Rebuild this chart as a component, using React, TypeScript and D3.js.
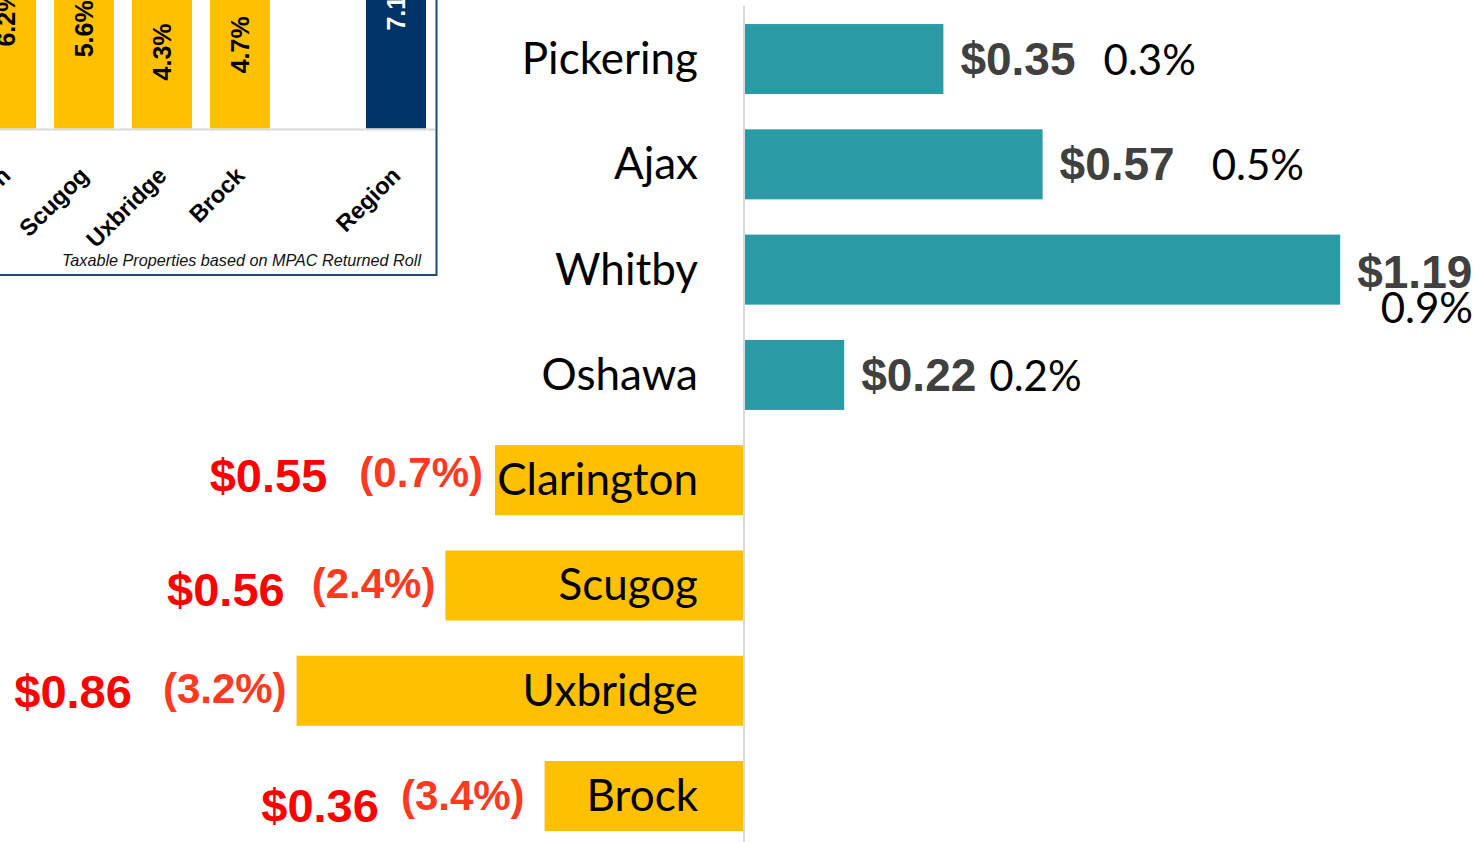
import React from "react";
import * as d3 from "d3";

// ---- Main diverging bar chart data ----
const categories = ["Pickering", "Ajax", "Whitby", "Oshawa", "Clarington", "Scugog", "Uxbridge", "Brock"];
// bar lengths (rounded $ values; teal = positive, yellow = negative)
const barValues = [0.4, 0.6, 1.2, 0.2, -0.5, -0.6, -0.9, -0.4];
const dollarLabels = ["$0.35", "$0.57", "$1.19", "$0.22", "$0.55", "$0.56", "$0.86", "$0.36"];
const pctLabels = ["0.3%", "0.5%", "0.9%", "0.2%", "(0.7%)", "(2.4%)", "(3.2%)", "(3.4%)"];

// ---- Inset (cropped) column chart data ----
const insetCategories = ["Clarington", "Scugog", "Uxbridge", "Brock", " ", "Region"];
const insetValues: (number | null)[] = [6.2, 5.6, 4.3, 4.7, null, 7.1];
const insetLabels = ["6.2%", "5.6%", "4.3%", "4.7%", "", "7.1%"];
const insetNote = "Taxable Properties based on MPAC Returned Roll";

const W = 1478;
const H = 842;
const ARIAL = "'Liberation Sans', Arial, sans-serif";
const CAL = "Lato, 'Noto Sans', sans-serif";
const TEAL = "#2A9BA5";
const YELLOW = "#FFC000";
const NAVY = "#003366";

export default function App() {
  const axisX = 744;
  const len = d3.scaleLinear().domain([0, 1]).range([0, 496]);
  const y = d3
    .scaleBand<string>()
    .domain(categories)
    .range([6.4, 848.7])
    .paddingInner(0.335)
    .paddingOuter(0.1675);

  // layout nudges (text placement)
  const posGap = [28, 37, 0, 13];
  const posDy = [16, 16, 18, 16];
  const negDy = [12, 21, 17, 26];
  const negRise = [5, 8, 5, 12];
  const negBarGap = [12, 10, 10, 20];
  const negDollarGap = [32, 27, 31, 22];

  // inset scales
  const xi = d3
    .scaleBand<string>()
    .domain(insetCategories)
    .range([-33, -33 + 6 * 78])
    .paddingInner(0.2308)
    .paddingOuter(0.1154);
  const base = 128.5;
  const yi = d3.scaleLinear().domain([0, 1]).range([base, base - 35.6]);

  return (
    <svg
      width={W}
      height={H}
      viewBox={`0 0 ${W} ${H}`}
      style={{ position: "absolute", left: 0, top: 0, background: "#fff", display: "block" }}
    >
      <rect x={0} y={0} width={W} height={H} fill="#fff" />

      {/* ---------- Inset chart ---------- */}
      <g>
        {insetCategories.map((c, i) => {
          const v = insetValues[i];
          if (v == null) return null;
          const bx = xi(c)!;
          const bw = xi.bandwidth();
          const top = yi(v);
          const cx = bx + bw / 2;
          const cy = (top + base) / 2;
          const isRegion = c === "Region";
          return (
            <g key={c}>
              <rect x={bx} y={top} width={bw} height={base - top} fill={isRegion ? NAVY : YELLOW} />
              <text
                transform={`translate(${cx + 9},${cy}) rotate(-90)`}
                textAnchor="middle"
                fontFamily={ARIAL}
                fontWeight="bold"
                fontSize={25}
                fill={isRegion ? "#fff" : "#000"}
              >
                {insetLabels[i]}
              </text>
              <text
                transform={`translate(${cx + 6},177) rotate(-45)`}
                textAnchor="end"
                fontFamily={ARIAL}
                fontWeight="bold"
                fontSize={23.5}
                fill="#000"
              >
                {c}
              </text>
            </g>
          );
        })}
        <line x1={0} x2={435} y1={base + 1} y2={base + 1} stroke="#D9D9D9" strokeWidth={2} />
        <text x={421} y={266} textAnchor="end" fontFamily={ARIAL} fontStyle="italic" fontSize={16.2} fill="#111">
          {insetNote}
        </text>
        <rect x={-5} y={-5} width={441.5} height={280} fill="none" stroke="#1F497D" strokeWidth={2} />
      </g>

      {/* ---------- Main chart ---------- */}
      <line x1={axisX} x2={axisX} y1={6} y2={H} stroke="#D9D9D9" strokeWidth={2} />

      {categories.map((c, i) => {
        const v = barValues[i];
        const top = y(c)!;
        const bh = y.bandwidth();
        const cy = top + bh / 2;
        const w = len(Math.abs(v));
        if (v >= 0) {
          const x = axisX + 1;
          const end = x + w;
          return (
            <g key={c}>
              <rect x={x} y={top} width={w} height={bh} fill={TEAL} />
              <text x={698} y={cy + 15} textAnchor="end" fontFamily={CAL} fontSize={44} fill="#000">
                {c}
              </text>
              <text x={end + 17} y={cy + posDy[i]}>
                <tspan fontFamily={ARIAL} fontWeight="bold" fontSize={46} fill="#404040">
                  {dollarLabels[i]}
                </tspan>
                {c !== "Whitby" && (
                  <tspan dx={posGap[i]} fontFamily={CAL} fontSize={42} fill="#000">
                    {pctLabels[i]}
                  </tspan>
                )}
              </text>
              {c === "Whitby" && (
                <text x={1473} y={cy + 53} textAnchor="end" fontFamily={CAL} fontSize={42} fill="#000">
                  {pctLabels[i]}
                </text>
              )}
            </g>
          );
        }
        const j = i - 4;
        const x = axisX - 1 - w;
        return (
          <g key={c}>
            <rect x={x} y={top} width={w} height={bh} fill={YELLOW} />
            <text x={698} y={cy + 15} textAnchor="end" fontFamily={CAL} fontSize={44} fill="#000">
              {c}
            </text>
            <text x={x - negBarGap[j]} y={cy + negDy[j]} textAnchor="end">
              <tspan fontFamily={ARIAL} fontWeight="bold" fontSize={47} fill="#FF0000">
                {dollarLabels[i]}
              </tspan>
              <tspan
                dx={negDollarGap[j]}
                dy={-negRise[j]}
                fontFamily={ARIAL}
                fontWeight="bold"
                fontSize={42}
                fill="#FF3A1F"
              >
                {pctLabels[i]}
              </tspan>
            </text>
          </g>
        );
      })}
    </svg>
  );
}
